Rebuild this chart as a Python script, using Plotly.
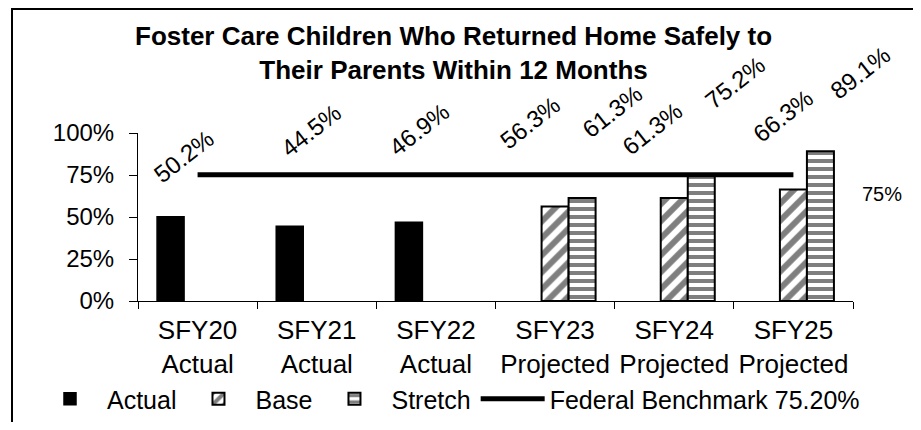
import plotly.graph_objects as go

categories = ["SFY20<br>Actual", "SFY21<br>Actual", "SFY22<br>Actual",
              "SFY23<br>Projected", "SFY24<br>Projected", "SFY25<br>Projected"]
actual = [50.2, 44.5, 46.9, None, None, None]
base = [None, None, None, 56.3, 61.3, 66.3]
stretch = [None, None, None, 61.3, 75.2, 89.1]
benchmark = [75.2] * 6
benchmark_label = "75%"
y_ticks = [0, 25, 50, 75, 100]
y_tick_labels = ["0%", "25%", "50%", "75%", "100%"]

FONT = "Arial, Liberation Sans, sans-serif"
# the page body has an 8px margin, so the figure is drawn 8px smaller
# and all reference pixel positions are shifted by that amount
OFF = 8
W, H = 921 - 2 * OFF, 430 - 2 * OFF
L, T = 138 - OFF, 133 - OFF
PW, PH = 715, 168
R, B = W - L - PW, H - T - PH


def px_x(p):
    return (p - OFF - L) / PW


def px_y(p):
    return (H - B - (p - OFF)) / PH


fig = go.Figure()
fig.add_trace(go.Bar(name="Actual", x=categories, y=actual,
                     marker=dict(color="black", line=dict(color="black", width=1.5))))
fig.add_trace(go.Bar(name="Base", x=categories, y=base,
                     marker=dict(color="white", line=dict(color="black", width=2),
                                 pattern=dict(shape="/", size=12, solidity=0.5,
                                              fgcolor="black", bgcolor="white"))))
fig.add_trace(go.Bar(name="Stretch", x=categories, y=stretch,
                     marker=dict(color="white", line=dict(color="black", width=2),
                                 pattern=dict(shape="-", size=8, solidity=0.5,
                                              fgcolor="black", bgcolor="white"))))
fig.add_trace(go.Scatter(name="Federal Benchmark 75.20%", x=categories, y=benchmark,
                         mode="lines", line=dict(color="black", width=5)))

# data labels (pixel offsets reproduce the manual placement in the original)
label_offsets = {
    "actual": [(13, 60), (21, 96), (10, 93)],
    "base": [(-25, 84), (-22, 70), (-10, 74)],
    "stretch": [(30, 87), (34, 92), (40, 79)],
}
group_shift = {"actual": -27, "base": 0, "stretch": 27}
series = {"actual": actual, "base": base, "stretch": stretch}
for key, vals in series.items():
    k = 0
    for i, v in enumerate(vals):
        if v is None:
            continue
        dx, dy = label_offsets[key][k]
        k += 1
        fig.add_annotation(x=i, y=v, xref="x", yref="y", text=f"{v:.1f}%",
                           showarrow=False, textangle=-38,
                           xanchor="center", yanchor="middle",
                           xshift=group_shift[key] + dx, yshift=dy,
                           font=dict(family=FONT, size=24, color="black"))

# benchmark end label
fig.add_annotation(x=1.0, y=benchmark[-1], xref="paper", yref="y", text=benchmark_label,
                   showarrow=False, xanchor="left", yanchor="middle", xshift=7, yshift=-19,
                   font=dict(family=FONT, size=20, color="black"))

# title
fig.add_annotation(x=px_x(453), y=px_y(53), xref="paper", yref="paper",
                   text="<b>Foster Care Children Who Returned Home Safely to<br>Their Parents Within 12 Months</b>",
                   showarrow=False, xanchor="center", yanchor="middle",
                   font=dict(family=FONT, size=26, color="black"))

# outer chart border
fig.add_shape(type="rect", xref="paper", yref="paper",
              x0=px_x(12), x1=px_x(945), y0=px_y(450), y1=px_y(9),
              line=dict(color="black", width=2), fillcolor="rgba(0,0,0,0)", layer="below")

fig.update_layout(
    width=W, height=H,
    margin=dict(l=L, r=R, t=T, b=B, pad=0, autoexpand=False),
    paper_bgcolor="white", plot_bgcolor="white",
    barmode="group", bargap=0.32, bargroupgap=0,
    font=dict(family=FONT, size=24, color="black"),
    showlegend=True,
    legend=dict(orientation="h", x=px_x(33), xanchor="left",
                y=px_y(H + OFF), yanchor="bottom",
                font=dict(family=FONT, size=25), itemwidth=64,
                traceorder="normal", bgcolor="rgba(0,0,0,0)"),
    xaxis=dict(range=[-0.5, len(categories) - 0.5], autorange=False,
               showline=True, linecolor="black", linewidth=1, ticks="outside",
               tickson="boundaries", ticklen=7, tickcolor="black",
               ticklabelstandoff=6,
               tickfont=dict(family=FONT, size=26), showgrid=False, zeroline=False,
               automargin=False),
    yaxis=dict(range=[0, 100], autorange=False, tickvals=y_ticks, ticktext=y_tick_labels,
               showline=True, linecolor="black", linewidth=1, ticks="outside",
               ticklen=8, tickcolor="black", showgrid=False, zeroline=False,
               ticklabelstandoff=10, automargin=False,
               tickfont=dict(family=FONT, size=24)),
)

fig.write_html("out.html")
